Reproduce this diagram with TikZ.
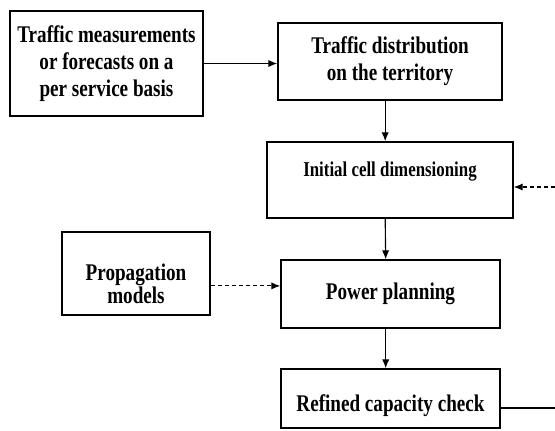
\documentclass[tikz,border=0pt]{standalone}
\usepackage{fontspec}
\setmainfont{Liberation Serif}[FakeStretch=0.8]
\usetikzlibrary{arrows.meta, positioning}

\begin{document}
\begin{tikzpicture}[
    x=0.025cm, y=-0.025cm,
    block/.style={rectangle, draw, line width=1.1pt, align=center, inner sep=2pt, font={\fontsize{17}{19}\selectfont\bfseries}}, % plain boxes
    txt/.style={font={\fontsize{17}{16}\selectfont\bfseries}, align=center},
    smalltxt/.style={font={\fontsize{15}{17}\selectfont\bfseries}, align=center},
    arrow/.style={-{Latex[length=2.2mm, width=1.8mm]}, line width=0.8pt},
    feed/.style={densely dashed}
]
\useasboundingbox (0,0) rectangle (555,430);

% Top row: inputs
\node[block, minimum width=4.825cm, minimum height=2.625cm] (meas) at (106.5,63.5) {Traffic measurements\\or forecasts on a\\per service basis};
\node[block, minimum width=5.6cm, minimum height=1.925cm] (distr) at (390,61.5) {Traffic distribution\\on the territory};

% Middle: dimensioning and planning
\node[block, minimum width=6.15cm, minimum height=1.9cm, label={[smalltxt, yshift=0.2cm]center:Initial cell dimensioning}] (init) at (390,180) {};
\node[block, minimum width=3.7cm, minimum height=2.075cm, label={[txt, yshift=-0.26cm]center:Propagation\\models}] (prop) at (136,273.5) {};
\node[block, minimum width=5.475cm, minimum height=1.7cm] (power) at (390.5,294) {Power planning};

% Bottom: check
\node[block, minimum width=5.475cm, minimum height=1.475cm, label={[txt, yshift=-0.18cm]center:Refined capacity check}] (check) at (390.5,398.5) {};

% Loose ends of the feedback loop
\coordinate (fbin) at (555,187);
\coordinate (fbout) at (555,408);

% Connections
\draw[arrow] (meas.east) -- (meas.east -| distr.west);
\draw[arrow] ([xshift=-0.12cm]distr.south) -- ([xshift=-0.12cm]init.north);
\draw[arrow] ([xshift=-0.12cm]init.south) -- ([xshift=-0.12cm]power.north);
\draw[arrow] ([xshift=-0.12cm]power.south) -- ([xshift=-0.12cm]check.north);
\draw[arrow, feed] ([yshift=-0.31cm]prop.east) -- ([yshift=-0.31cm]prop.east -| power.west);
\draw[arrow, feed] (fbin) -- (fbin -| init.east);
\draw[line width=0.8pt] (check.east |- fbout) -- (fbout);

\end{tikzpicture}
\end{document}
